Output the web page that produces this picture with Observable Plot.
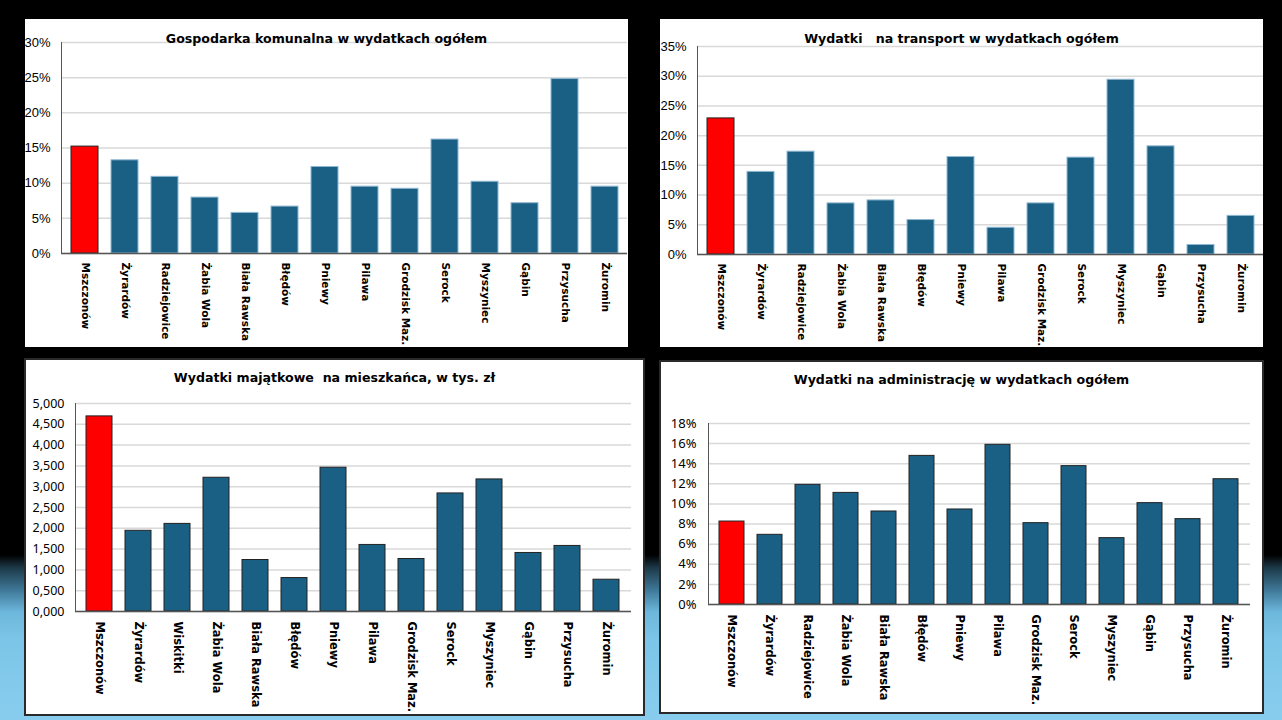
<!DOCTYPE html>
<html>
<head>
<meta charset="utf-8">
<script src="https://cdn.jsdelivr.net/npm/d3@7"></script>
<script src="https://cdn.jsdelivr.net/npm/@observablehq/plot@0.6"></script>
<style>
  html, body { margin: 0; padding: 0; }
  body {
    width: 1282px; height: 720px; overflow: hidden; position: relative;
    background: linear-gradient(to bottom, #000 0px, #000 555px, #1d3a49 568px, #3f7898 590px, #6db7dc 612px, #7cc5e8 640px, #88cdee 720px);
  }
  .panel { position: absolute; background: #fff; box-sizing: border-box; }
  .panel svg { position: absolute; left: 0; top: 0; overflow: visible; }
  .title {
    position: absolute; left: 0; right: 0; text-align: center; white-space: pre;
    font-family: "DejaVu Sans", sans-serif; font-weight: bold; font-size: 12.6px; color: #000;
    z-index: 2;
  }
</style>
</head>
<body>
<div id="p1" class="panel" style="left:25px;top:19px;width:603px;height:328px;"></div>
<div id="p2" class="panel" style="left:660px;top:19px;width:603px;height:328px;"></div>
<div id="p3" class="panel" style="left:24px;top:358px;width:621px;height:358px;border:2px solid #2a2a2a;"></div>
<div id="p4" class="panel" style="left:659px;top:360px;width:605px;height:354px;border:2px solid #2a2a2a;"></div>
<script>
// ---- data ----
const categoriesA = ["Mszczonów", "Żyrardów", "Radziejowice", "Żabia Wola", "Biała Rawska", "Błędów", "Pniewy", "Pilawa", "Grodzisk Maz.", "Serock", "Myszyniec", "Gąbin", "Przysucha", "Żuromin"];
const categoriesB = ["Mszczonów", "Żyrardów", "Wiskitki", "Żabia Wola", "Biała Rawska", "Błędów", "Pniewy", "Pilawa", "Grodzisk Maz.", "Serock", "Myszyniec", "Gąbin", "Przysucha", "Żuromin"];
const highlighted = "Mszczonów";

const komunalna = [0.152, 0.1325, 0.109, 0.0795, 0.0577, 0.0667, 0.123, 0.095, 0.092, 0.162, 0.102, 0.0715, 0.248, 0.095];
const transport = [0.229, 0.139, 0.173, 0.086, 0.091, 0.058, 0.164, 0.045, 0.086, 0.163, 0.294, 0.182, 0.016, 0.065];
const majatkowe = [4.69, 1.94, 2.106, 3.215, 1.238, 0.804, 3.457, 1.60, 1.262, 2.838, 3.175, 1.407, 1.576, 0.764];
const administracja = [0.0825, 0.0693, 0.119, 0.111, 0.0925, 0.1478, 0.0945, 0.1588, 0.0809, 0.1376, 0.066, 0.1008, 0.0849, 0.1246];

const titles = [
  "Gospodarka komunalna w wydatkach ogółem",
  "Wydatki   na transport w wydatkach ogółem",
  "Wydatki majątkowe  na mieszkańca, w tys. zł",
  "Wydatki na administrację w wydatkach ogółem"
];
const ticks1 = [0, 0.05, 0.10, 0.15, 0.20, 0.25, 0.30];
const ticks2 = [0, 0.05, 0.10, 0.15, 0.20, 0.25, 0.30, 0.35];
const ticks3 = [0, 0.5, 1, 1.5, 2, 2.5, 3, 3.5, 4, 4.5, 5];
const ticks4 = [0, 0.02, 0.04, 0.06, 0.08, 0.10, 0.12, 0.14, 0.16, 0.18];

const BLUE = "#1a5f84";
const RED = "#ff0000";

function makeChart(cfg) {
  const data = cfg.cats.map((c, i) => ({cat: c, v: cfg.values[i]}));
  return Plot.plot({
    width: cfg.width, height: cfg.height,
    marginLeft: cfg.ml, marginRight: cfg.mr, marginTop: cfg.mt, marginBottom: cfg.mb,
    style: {fontFamily: cfg.tickFont, fontSize: cfg.tickSize + "px", color: "#000", background: "transparent", overflow: "visible"},
    x: {domain: cfg.cats, paddingInner: 0.33, paddingOuter: 0.17},
    y: {domain: cfg.domain},
    marks: [
      Plot.gridY(cfg.ticks, {stroke: "#d9d9d9", strokeOpacity: 1, strokeWidth: 1.5}),
      Plot.barY(data, {
        x: "cat", y: "v",
        fill: d => d.cat === highlighted ? RED : BLUE,
        stroke: d => d.cat === highlighted ? "#222" : cfg.barStroke,
        strokeWidth: 1
      }),
      Plot.ruleY([0], {stroke: "#555", strokeWidth: 1.5}),
      Plot.frame({anchor: "left", stroke: "#555", strokeWidth: 1}),
      Plot.axisY({ticks: cfg.ticks, tickFormat: cfg.fmt, tickSize: 0, tickPadding: cfg.tp, label: null,
        fontSize: cfg.tickSize, fontFamily: cfg.tickFont}),
      Plot.axisX({tickRotate: 90, tickSize: 0, tickPadding: cfg.cp, label: null,
        fontWeight: "bold", fontSize: cfg.catSize, fontFamily: "DejaVu Sans"})
    ]
  });
}

const pct = d3.format(".0%");
const thous = v => d3.format(".3f")(v).replace(".", ",");

const configs = [
  {id: "p1", cats: categoriesA, values: komunalna, domain: [0, 0.30], ticks: ticks1, fmt: pct,
   width: 603, height: 328, ml: 36, mr: 1, mt: 23, mb: 94, tp: 11, cp: 9,
   tickFont: "Liberation Sans", tickSize: 13, catSize: 10.5, barStroke: "#8fb8d2", title: titles[0], ty: 12},
  {id: "p2", cats: categoriesA, values: transport, domain: [0, 0.35], ticks: ticks2, fmt: pct,
   width: 603, height: 328, ml: 37, mr: 0, mt: 27, mb: 93, tp: 11, cp: 9,
   tickFont: "Liberation Sans", tickSize: 13, catSize: 10.5, barStroke: "#8fb8d2", title: titles[1], ty: 12},
  {id: "p3", cats: categoriesB, values: majatkowe, domain: [0, 5], ticks: ticks3, fmt: thous,
   width: 617, height: 354, ml: 49, mr: 12, mt: 43, mb: 103, tp: 11, cp: 10,
   tickFont: "Noto Sans", tickSize: 12.5, catSize: 11.5, barStroke: "#222", title: titles[2], ty: 10},
  {id: "p4", cats: categoriesA, values: administracja, domain: [0, 0.18], ticks: ticks4, fmt: pct,
   width: 601, height: 350, ml: 47, mr: 12, mt: 61, mb: 108, tp: 12, cp: 10,
   tickFont: "Noto Sans", tickSize: 13, catSize: 11.5, barStroke: "#222", title: titles[3], ty: 10}
];

for (const cfg of configs) {
  const el = document.getElementById(cfg.id);
  el.appendChild(makeChart(cfg));
  const t = document.createElement("div");
  t.className = "title";
  t.style.top = cfg.ty + "px";
  t.textContent = cfg.title;
  el.appendChild(t);
}
</script>
</body>
</html>
